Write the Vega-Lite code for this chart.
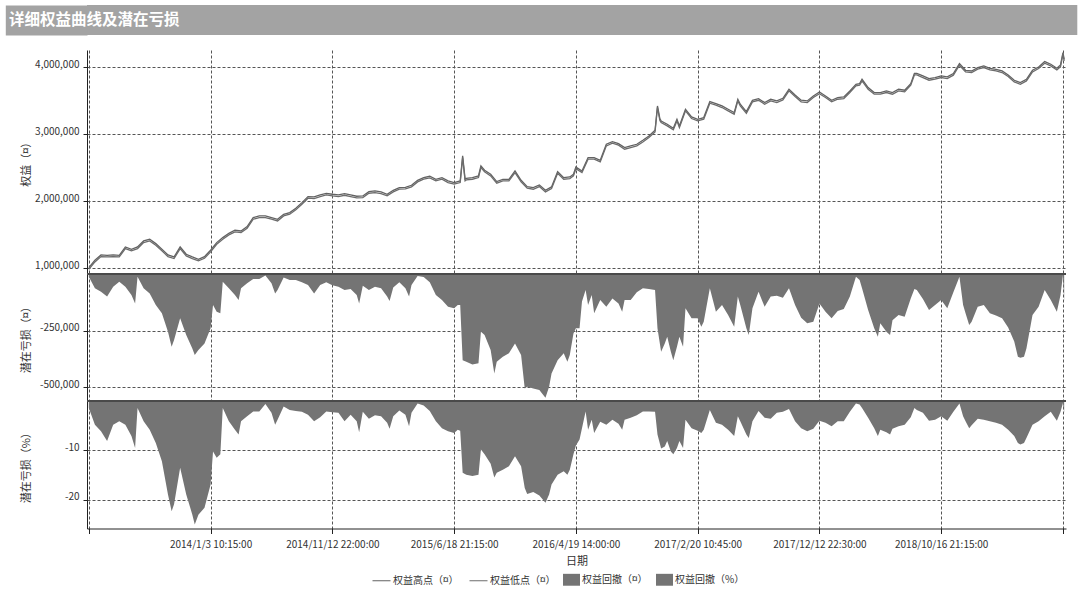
{
  "$schema": "https://vega.github.io/schema/vega-lite/v6.json",
  "background": "white",
  "padding": {"left": -10, "top": 5, "right": 5, "bottom": 5},
  "config": {
    "font": "Noto Sans CJK SC",
    "view": {"stroke": null},
    "axis": {
      "labelFont": "Noto Sans CJK SC", "labelFontSize": 10, "labelColor": "#333333",
      "titleFont": "Noto Sans CJK SC", "titleFontSize": 11, "titleFontWeight": "normal", "titleColor": "#333333", "titleLineHeight": 12.7,
      "gridColor": "#555555", "gridDash": [3, 2], "gridOpacity": 1, "gridWidth": 1,
      "domainColor": "#222222", "tickColor": "#222222"
    },
    "legend": {"labelFont": "Noto Sans CJK SC", "labelFontSize": 10, "labelColor": "#333333", "labelOffset": 2, "columnPadding": 8}
  },
  "datasets": {
    "eq": [
      {"i":0,"hi":1012000,"lo":988000},{"i":5,"hi":1121000,"lo":1097000},{"i":10,"hi":1201000,"lo":1177000},{"i":15,"hi":1196000,"lo":1172000},
      {"i":20,"hi":1201000,"lo":1177000},{"i":25,"hi":1196000,"lo":1172000},{"i":30,"hi":1320000,"lo":1296000},{"i":35,"hi":1286000,"lo":1262000},
      {"i":40,"hi":1320000,"lo":1296000},{"i":45,"hi":1410000,"lo":1386000},{"i":50,"hi":1435000,"lo":1411000},{"i":55,"hi":1370000,"lo":1346000},
      {"i":60,"hi":1286000,"lo":1262000},{"i":65,"hi":1201000,"lo":1177000},{"i":70,"hi":1171000,"lo":1147000},{"i":75,"hi":1320000,"lo":1296000},
      {"i":80,"hi":1211000,"lo":1187000},{"i":85,"hi":1171000,"lo":1147000},{"i":90,"hi":1136000,"lo":1112000},{"i":95,"hi":1176000,"lo":1152000},
      {"i":100,"hi":1271000,"lo":1247000},{"i":105,"hi":1385000,"lo":1361000},{"i":110,"hi":1460000,"lo":1436000},{"i":115,"hi":1524000,"lo":1500000},
      {"i":120,"hi":1569000,"lo":1545000},{"i":125,"hi":1559000,"lo":1535000},{"i":130,"hi":1624000,"lo":1600000},{"i":135,"hi":1758000,"lo":1734000},
      {"i":140,"hi":1783000,"lo":1759000},{"i":145,"hi":1783000,"lo":1759000},{"i":150,"hi":1758000,"lo":1734000},{"i":155,"hi":1733000,"lo":1709000},
      {"i":160,"hi":1808000,"lo":1784000},{"i":165,"hi":1833000,"lo":1809000},{"i":170,"hi":1898000,"lo":1874000},{"i":175,"hi":1982000,"lo":1958000},
      {"i":180,"hi":2072000,"lo":2048000},{"i":185,"hi":2067000,"lo":2043000},{"i":190,"hi":2097000,"lo":2073000},{"i":195,"hi":2121000,"lo":2097000},
      {"i":200,"hi":2107000,"lo":2083000},{"i":205,"hi":2097000,"lo":2073000},{"i":210,"hi":2116000,"lo":2092000},{"i":215,"hi":2097000,"lo":2073000},
      {"i":220,"hi":2077000,"lo":2053000},{"i":225,"hi":2082000,"lo":2058000},{"i":230,"hi":2146000,"lo":2122000},{"i":235,"hi":2156000,"lo":2132000},
      {"i":240,"hi":2141000,"lo":2117000},{"i":245,"hi":2107000,"lo":2083000},{"i":250,"hi":2166000,"lo":2142000},{"i":255,"hi":2206000,"lo":2182000},
      {"i":260,"hi":2211000,"lo":2187000},{"i":265,"hi":2241000,"lo":2217000},{"i":270,"hi":2315000,"lo":2291000},{"i":275,"hi":2355000,"lo":2331000},
      {"i":280,"hi":2375000,"lo":2351000},{"i":285,"hi":2330000,"lo":2306000},{"i":290,"hi":2355000,"lo":2331000},{"i":295,"hi":2306000,"lo":2282000},
      {"i":300,"hi":2281000,"lo":2257000},{"i":305,"hi":2306000,"lo":2282000},{"i":307,"hi":2679000,"lo":2655000},{"i":309,"hi":2332000,"lo":2308000},
      {"i":310,"hi":2345000,"lo":2321000},{"i":315,"hi":2355000,"lo":2331000},{"i":320,"hi":2380000,"lo":2356000},{"i":322,"hi":2529000,"lo":2505000},
      {"i":325,"hi":2465000,"lo":2441000},{"i":330,"hi":2405000,"lo":2381000},{"i":335,"hi":2296000,"lo":2272000},{"i":340,"hi":2330000,"lo":2306000},
      {"i":345,"hi":2330000,"lo":2306000},{"i":350,"hi":2455000,"lo":2431000},{"i":355,"hi":2315000,"lo":2291000},{"i":360,"hi":2221000,"lo":2197000},
      {"i":365,"hi":2206000,"lo":2182000},{"i":370,"hi":2246000,"lo":2222000},{"i":375,"hi":2166000,"lo":2142000},{"i":380,"hi":2216000,"lo":2192000},
      {"i":385,"hi":2445000,"lo":2421000},{"i":390,"hi":2355000,"lo":2331000},{"i":395,"hi":2365000,"lo":2341000},{"i":398,"hi":2405000,"lo":2381000},
      {"i":400,"hi":2512000,"lo":2488000},{"i":405,"hi":2455000,"lo":2431000},{"i":410,"hi":2654000,"lo":2630000},{"i":415,"hi":2654000,"lo":2630000},
      {"i":420,"hi":2614000,"lo":2590000},{"i":425,"hi":2853000,"lo":2829000},{"i":430,"hi":2893000,"lo":2869000},{"i":435,"hi":2863000,"lo":2839000},
      {"i":440,"hi":2803000,"lo":2779000},{"i":445,"hi":2828000,"lo":2804000},{"i":450,"hi":2853000,"lo":2829000},{"i":455,"hi":2912000,"lo":2888000},
      {"i":460,"hi":2977000,"lo":2953000},{"i":465,"hi":3062000,"lo":3038000},{"i":467,"hi":3425000,"lo":3401000},{"i":469,"hi":3232000,"lo":3208000},
      {"i":470,"hi":3201000,"lo":3177000},{"i":475,"hi":3151000,"lo":3127000},{"i":480,"hi":3092000,"lo":3068000},{"i":483,"hi":3226000,"lo":3202000},
      {"i":485,"hi":3126000,"lo":3102000},{"i":490,"hi":3375000,"lo":3351000},{"i":495,"hi":3261000,"lo":3237000},{"i":500,"hi":3226000,"lo":3202000},
      {"i":505,"hi":3251000,"lo":3227000},{"i":510,"hi":3490000,"lo":3466000},{"i":515,"hi":3460000,"lo":3436000},{"i":520,"hi":3425000,"lo":3401000},
      {"i":525,"hi":3375000,"lo":3351000},{"i":530,"hi":3325000,"lo":3301000},{"i":533,"hi":3524000,"lo":3500000},{"i":535,"hi":3450000,"lo":3426000},
      {"i":540,"hi":3340000,"lo":3316000},{"i":545,"hi":3510000,"lo":3486000},{"i":550,"hi":3534000,"lo":3510000},{"i":555,"hi":3475000,"lo":3451000},
      {"i":560,"hi":3524000,"lo":3500000},{"i":565,"hi":3500000,"lo":3476000},{"i":570,"hi":3539000,"lo":3515000},{"i":575,"hi":3674000,"lo":3650000},
      {"i":580,"hi":3589000,"lo":3565000},{"i":585,"hi":3510000,"lo":3486000},{"i":590,"hi":3500000,"lo":3476000},{"i":595,"hi":3574000,"lo":3550000},
      {"i":600,"hi":3632000,"lo":3608000},{"i":605,"hi":3574000,"lo":3550000},{"i":610,"hi":3510000,"lo":3486000},{"i":615,"hi":3549000,"lo":3525000},
      {"i":620,"hi":3559000,"lo":3535000},{"i":625,"hi":3649000,"lo":3625000},{"i":630,"hi":3748000,"lo":3724000},{"i":633,"hi":3758000,"lo":3734000},
      {"i":635,"hi":3823000,"lo":3799000},{"i":640,"hi":3699000,"lo":3675000},{"i":645,"hi":3624000,"lo":3600000},{"i":650,"hi":3624000,"lo":3600000},
      {"i":655,"hi":3649000,"lo":3625000},{"i":660,"hi":3624000,"lo":3600000},{"i":665,"hi":3674000,"lo":3650000},{"i":670,"hi":3659000,"lo":3635000},
      {"i":675,"hi":3758000,"lo":3734000},{"i":678,"hi":3912000,"lo":3888000},{"i":680,"hi":3912000,"lo":3888000},{"i":685,"hi":3873000,"lo":3849000},
      {"i":690,"hi":3833000,"lo":3809000},{"i":695,"hi":3848000,"lo":3824000},{"i":700,"hi":3873000,"lo":3849000},{"i":705,"hi":3858000,"lo":3834000},
      {"i":710,"hi":3908000,"lo":3884000},{"i":715,"hi":4057000,"lo":4033000},{"i":720,"hi":3957000,"lo":3933000},{"i":725,"hi":3947000,"lo":3923000},
      {"i":730,"hi":3997000,"lo":3973000},{"i":735,"hi":4022000,"lo":3998000},{"i":740,"hi":3987000,"lo":3963000},{"i":745,"hi":3972000,"lo":3948000},
      {"i":750,"hi":3947000,"lo":3923000},{"i":755,"hi":3888000,"lo":3864000},{"i":760,"hi":3808000,"lo":3784000},{"i":765,"hi":3773000,"lo":3749000},
      {"i":770,"hi":3823000,"lo":3799000},{"i":775,"hi":3957000,"lo":3933000},{"i":780,"hi":4007000,"lo":3983000},{"i":785,"hi":4087000,"lo":4063000},
      {"i":790,"hi":4047000,"lo":4023000},{"i":795,"hi":3987000,"lo":3963000},{"i":798,"hi":4037000,"lo":4013000},{"i":800,"hi":4221000,"lo":4197000},
      {"i":801,"hi":4122000,"lo":4098000}
    ],
    "dd": [
      {"i":0,"amt":-12000,"pct":-1.4},{"i":5,"amt":-63000,"pct":-4.8},{"i":10,"amt":-78000,"pct":-6.1},{"i":15,"amt":-100000,"pct":-8.1},
      {"i":20,"amt":-56000,"pct":-4.8},{"i":25,"amt":-34000,"pct":-4.1},{"i":30,"amt":-56000,"pct":-4.8},{"i":35,"amt":-93000,"pct":-7.1},
      {"i":38,"amt":-130000,"pct":-9.5},{"i":40,"amt":-12000,"pct":-1.4},{"i":45,"amt":-63000,"pct":-4.1},{"i":50,"amt":-86000,"pct":-5.8},
      {"i":55,"amt":-137000,"pct":-8.5},{"i":60,"amt":-174000,"pct":-12.2},{"i":65,"amt":-255000,"pct":-18.9},{"i":68,"amt":-322000,"pct":-22.3},
      {"i":70,"amt":-292000,"pct":-20.9},{"i":75,"amt":-196000,"pct":-13.5},{"i":80,"amt":-270000,"pct":-18.9},{"i":85,"amt":-329000,"pct":-23.0},
      {"i":87,"amt":-358000,"pct":-25.0},{"i":90,"amt":-336000,"pct":-23.0},{"i":95,"amt":-307000,"pct":-21.6},{"i":100,"amt":-240000,"pct":-16.9},
      {"i":102,"amt":-137000,"pct":-10.2},{"i":105,"amt":-167000,"pct":-11.5},{"i":108,"amt":-174000,"pct":-10.8},{"i":110,"amt":-34000,"pct":-1.4},
      {"i":115,"amt":-63000,"pct":-4.1},{"i":120,"amt":-93000,"pct":-5.8},{"i":123,"amt":-115000,"pct":-6.8},{"i":125,"amt":-63000,"pct":-4.1},
      {"i":130,"amt":-41000,"pct":-3.1},{"i":135,"amt":-22000,"pct":-2.1},{"i":140,"amt":-22000,"pct":-2.1},{"i":145,"amt":-7000,"pct":-0.6},
      {"i":150,"amt":-41000,"pct":-2.4},{"i":153,"amt":-86000,"pct":-4.8},{"i":155,"amt":-71000,"pct":-3.8},{"i":160,"amt":-16000,"pct":-1.1},
      {"i":165,"amt":-27000,"pct":-1.8},{"i":170,"amt":-27000,"pct":-2.0},{"i":175,"amt":-37000,"pct":-2.2},{"i":180,"amt":-49000,"pct":-2.8},
      {"i":185,"amt":-86000,"pct":-4.1},{"i":190,"amt":-49000,"pct":-3.3},{"i":195,"amt":-37000,"pct":-2.1},{"i":200,"amt":-50000,"pct":-2.3},
      {"i":205,"amt":-56000,"pct":-2.4},{"i":210,"amt":-71000,"pct":-4.1},{"i":215,"amt":-66000,"pct":-2.8},{"i":220,"amt":-93000,"pct":-4.1},
      {"i":222,"amt":-130000,"pct":-6.3},{"i":225,"amt":-52000,"pct":-2.2},{"i":230,"amt":-71000,"pct":-3.6},{"i":235,"amt":-56000,"pct":-2.9},
      {"i":240,"amt":-63000,"pct":-3.1},{"i":245,"amt":-100000,"pct":-4.4},{"i":247,"amt":-119000,"pct":-5.6},{"i":250,"amt":-60000,"pct":-3.1},
      {"i":255,"amt":-37000,"pct":-1.9},{"i":260,"amt":-63000,"pct":-2.8},{"i":263,"amt":-100000,"pct":-5.1},{"i":265,"amt":-49000,"pct":-2.4},
      {"i":270,"amt":-9000,"pct":-0.5},{"i":275,"amt":-13000,"pct":-0.9},{"i":280,"amt":-37000,"pct":-2.0},{"i":285,"amt":-93000,"pct":-4.1},
      {"i":290,"amt":-115000,"pct":-5.5},{"i":295,"amt":-145000,"pct":-6.1},{"i":300,"amt":-152000,"pct":-6.5},{"i":303,"amt":-137000,"pct":-5.8},
      {"i":305,"amt":-137000,"pct":-6.0},{"i":307,"amt":-381000,"pct":-14.5},{"i":310,"amt":-388000,"pct":-14.9},{"i":315,"amt":-400000,"pct":-15.2},
      {"i":320,"amt":-395000,"pct":-14.9},{"i":322,"amt":-255000,"pct":-9.8},{"i":325,"amt":-270000,"pct":-10.8},{"i":330,"amt":-336000,"pct":-12.7},
      {"i":333,"amt":-440000,"pct":-15.5},{"i":335,"amt":-388000,"pct":-14.5},{"i":340,"amt":-366000,"pct":-13.9},{"i":345,"amt":-351000,"pct":-13.2},
      {"i":350,"amt":-307000,"pct":-11.2},{"i":355,"amt":-358000,"pct":-13.2},{"i":358,"amt":-506000,"pct":-17.6},{"i":360,"amt":-499000,"pct":-18.8},
      {"i":365,"amt":-506000,"pct":-18.4},{"i":370,"amt":-513000,"pct":-19.1},{"i":375,"amt":-547000,"pct":-20.6},{"i":378,"amt":-499000,"pct":-18.9},
      {"i":380,"amt":-440000,"pct":-16.9},{"i":385,"amt":-381000,"pct":-14.9},{"i":390,"amt":-351000,"pct":-14.2},{"i":393,"amt":-388000,"pct":-14.9},
      {"i":395,"amt":-358000,"pct":-13.9},{"i":398,"amt":-263000,"pct":-10.8},{"i":400,"amt":-240000,"pct":-9.0},{"i":403,"amt":-240000,"pct":-7.8},
      {"i":405,"amt":-122000,"pct":-5.5},{"i":408,"amt":-71000,"pct":-2.1},{"i":410,"amt":-137000,"pct":-5.8},{"i":413,"amt":-93000,"pct":-3.8},
      {"i":415,"amt":-174000,"pct":-6.5},{"i":420,"amt":-115000,"pct":-4.2},{"i":425,"amt":-145000,"pct":-4.8},{"i":430,"amt":-108000,"pct":-3.8},
      {"i":435,"amt":-130000,"pct":-4.6},{"i":438,"amt":-167000,"pct":-5.8},{"i":440,"amt":-115000,"pct":-3.8},{"i":445,"amt":-115000,"pct":-3.4},
      {"i":450,"amt":-81000,"pct":-2.9},{"i":455,"amt":-63000,"pct":-2.1},{"i":460,"amt":-66000,"pct":-2.1},{"i":465,"amt":-71000,"pct":-2.2},
      {"i":467,"amt":-240000,"pct":-6.8},{"i":470,"amt":-344000,"pct":-9.6},{"i":473,"amt":-307000,"pct":-9.2},{"i":475,"amt":-277000,"pct":-8.1},
      {"i":478,"amt":-344000,"pct":-10.2},{"i":480,"amt":-381000,"pct":-10.8},{"i":483,"amt":-322000,"pct":-9.5},{"i":485,"amt":-277000,"pct":-8.1},
      {"i":488,"amt":-322000,"pct":-9.5},{"i":490,"amt":-152000,"pct":-3.8},{"i":495,"amt":-196000,"pct":-5.5},{"i":500,"amt":-196000,"pct":-6.0},
      {"i":503,"amt":-233000,"pct":-6.5},{"i":505,"amt":-211000,"pct":-5.8},{"i":510,"amt":-63000,"pct":-1.8},{"i":515,"amt":-167000,"pct":-4.4},
      {"i":520,"amt":-137000,"pct":-4.8},{"i":525,"amt":-181000,"pct":-5.8},{"i":530,"amt":-233000,"pct":-7.1},{"i":533,"amt":-100000,"pct":-3.1},
      {"i":535,"amt":-137000,"pct":-4.1},{"i":540,"amt":-240000,"pct":-6.8},{"i":542,"amt":-270000,"pct":-7.5},{"i":545,"amt":-152000,"pct":-4.1},
      {"i":550,"amt":-78000,"pct":-2.0},{"i":555,"amt":-145000,"pct":-3.4},{"i":560,"amt":-100000,"pct":-3.6},{"i":565,"amt":-96000,"pct":-2.4},
      {"i":570,"amt":-105000,"pct":-2.2},{"i":575,"amt":-63000,"pct":-1.6},{"i":580,"amt":-137000,"pct":-4.1},{"i":585,"amt":-193000,"pct":-5.5},
      {"i":590,"amt":-218000,"pct":-6.1},{"i":595,"amt":-211000,"pct":-5.6},{"i":600,"amt":-130000,"pct":-4.0},{"i":605,"amt":-167000,"pct":-4.4},
      {"i":610,"amt":-196000,"pct":-5.1},{"i":615,"amt":-164000,"pct":-4.1},{"i":620,"amt":-155000,"pct":-4.1},{"i":625,"amt":-100000,"pct":-2.2},
      {"i":630,"amt":-12000,"pct":-0.5},{"i":633,"amt":-27000,"pct":-0.7},{"i":635,"amt":-63000,"pct":-1.4},{"i":640,"amt":-159000,"pct":-3.4},
      {"i":645,"amt":-240000,"pct":-5.5},{"i":648,"amt":-277000,"pct":-7.1},{"i":650,"amt":-218000,"pct":-5.8},{"i":655,"amt":-255000,"pct":-6.3},
      {"i":658,"amt":-270000,"pct":-6.8},{"i":660,"amt":-204000,"pct":-5.6},{"i":665,"amt":-181000,"pct":-5.1},{"i":670,"amt":-189000,"pct":-4.8},
      {"i":675,"amt":-108000,"pct":-3.3},{"i":678,"amt":-66000,"pct":-1.4},{"i":680,"amt":-71000,"pct":-1.8},{"i":685,"amt":-111000,"pct":-2.4},
      {"i":690,"amt":-159000,"pct":-4.0},{"i":695,"amt":-137000,"pct":-3.8},{"i":700,"amt":-115000,"pct":-3.1},{"i":705,"amt":-152000,"pct":-4.0},
      {"i":710,"amt":-81000,"pct":-2.2},{"i":715,"amt":-12000,"pct":-0.5},{"i":718,"amt":-137000,"pct":-3.1},{"i":720,"amt":-174000,"pct":-4.1},
      {"i":723,"amt":-226000,"pct":-5.5},{"i":725,"amt":-211000,"pct":-4.9},{"i":730,"amt":-145000,"pct":-3.6},{"i":735,"amt":-137000,"pct":-3.8},
      {"i":740,"amt":-174000,"pct":-4.1},{"i":745,"amt":-184000,"pct":-4.4},{"i":750,"amt":-196000,"pct":-4.8},{"i":755,"amt":-237000,"pct":-5.8},
      {"i":760,"amt":-299000,"pct":-7.1},{"i":763,"amt":-366000,"pct":-8.5},{"i":765,"amt":-370000,"pct":-8.8},{"i":768,"amt":-366000,"pct":-8.5},
      {"i":770,"amt":-329000,"pct":-7.5},{"i":775,"amt":-181000,"pct":-4.8},{"i":780,"amt":-145000,"pct":-4.1},{"i":785,"amt":-71000,"pct":-3.1},
      {"i":790,"amt":-115000,"pct":-2.2},{"i":795,"amt":-167000,"pct":-4.0},{"i":798,"amt":-93000,"pct":-2.2},{"i":800,"amt":-4000,"pct":-0.4},
      {"i":801,"amt":-122000,"pct":-2.4}
    ],
    "hdr": [{"t": "详细权益曲线及潜在亏损"}]
  },
  "spacing": 15,
  "vconcat": [
    {
      "width": 990.3,
      "height": 30,
      "data": {"name": "hdr"},
      "mark": {"type": "rect", "color": "#a3a3a3"},
      "encoding": {
        "y": {"field": "t", "type": "nominal", "scale": {"paddingInner": 0, "paddingOuter": 0},
              "axis": {"title": null, "domain": false, "grid": false, "ticks": true, "tickSize": 81.7, "tickWidth": 30, "tickColor": "#a3a3a3", "tickCap": "butt", "bandPosition": 0.5,
                       "labelAlign": "left", "labelBaseline": "middle", "labelPadding": -3.3, "labelFontSize": 15.5, "labelFontWeight": "bold", "labelColor": "#ffffff", "labelFont": "Noto Sans CJK SC", "labelLimit": 400}}
      }
    },
    {
      "spacing": 0,
      "vconcat": [
        {
          "width": 979,
          "height": 222.5,
          "data": {"name": "eq"},
          "layer": [
            {
              "mark": {"type": "line", "strokeWidth": 1.3},
              "encoding": {
                "x": {"field": "i", "type": "quantitative", "scale": {"domain": [-1.5, 802.5], "nice": false, "zero": false},
                      "axis": {"values": [0,100,200,300,400,500,600,700,800], "labels": false, "ticks": false, "domain": false, "title": null, "grid": true}},
                "y": {"field": "hi", "type": "quantitative", "scale": {"domain": [939000, 4260000], "nice": false, "zero": false},
                      "axis": {"values": [1000000,2000000,3000000,4000000], "format": ",d", "title": ["", "权益（¤）"], "tickSize": 4, "labelPadding": 4, "labelBaseline": "alphabetic", "minExtent": 52, "maxExtent": 52, "titlePadding": 4, "grid": true}},
                "stroke": {"datum": "权益高点（¤）", "type": "nominal",
                          "scale": {"domain": ["权益高点（¤）","权益低点（¤）"], "range": ["#626262","#6c6c6c"]},
                          "legend": {"title": null, "orient": "none", "legendX": 285, "legendY": 566, "direction": "horizontal",
                                     "symbolType": "stroke", "symbolSize": 324, "symbolStrokeWidth": 1}}
              }
            },
            {
              "mark": {"type": "line", "strokeWidth": 1.3},
              "encoding": {
                "x": {"field": "i", "type": "quantitative"},
                "y": {"field": "lo", "type": "quantitative"},
                "stroke": {"datum": "权益低点（¤）", "type": "nominal"}
              }
            }
          ]
        },
        {
          "width": 979,
          "height": 125.5,
          "data": {"name": "dd"},
          "layer": [
            {
              "mark": {"type": "area", "opacity": 1},
              "encoding": {
                "x": {"field": "i", "type": "quantitative", "scale": {"domain": [-1.5, 802.5], "nice": false, "zero": false},
                      "axis": {"values": [0,100,200,300,400,500,600,700,800], "labels": false, "ticks": false, "domain": false, "title": null, "grid": true}},
                "y": {"field": "amt", "type": "quantitative", "scale": {"domain": [-555000, 0], "nice": false},
                      "axis": {"values": [-250000, -500000], "format": ",d", "labelExpr": "replace(datum.label, '−', '-')", "title": ["", "潜在亏损（¤）"], "tickSize": 4, "labelPadding": 4, "labelBaseline": "alphabetic", "minExtent": 52, "maxExtent": 52, "titlePadding": 4, "grid": true}},
                "fill": {"datum": "权益回撤（¤）", "type": "nominal",
                         "scale": {"domain": ["权益回撤（¤）","权益回撤（%）"], "range": ["#747474","#747474"]},
                         "legend": {"title": null, "orient": "none", "legendX": 476, "legendY": 566, "direction": "horizontal",
                                    "symbolType": "M-1,-0.7H1V0.7H-1Z", "symbolSize": 289, "symbolStrokeWidth": 0}}
              }
            },
            {
              "mark": {"type": "rule", "color": "#4a4a4a", "strokeWidth": 2},
              "encoding": {"y": {"datum": 0}}
            }
          ]
        },
        {
          "width": 979,
          "height": 127.5,
          "data": {"name": "dd"},
          "layer": [
            {
              "mark": {"type": "area", "opacity": 1},
              "encoding": {
                "x": {"field": "i", "type": "quantitative", "scale": {"domain": [-1.5, 802.5], "nice": false, "zero": false},
                      "axis": {"values": [0,100,200,300,400,500,600,700,800], "grid": true, "ticks": true, "tickSize": 5, "domain": true, "labelPadding": 6, "labelFlush": false, "titlePadding": 6, "title": "日期",
                               "labelExpr": "datum.value == 100 ? '2014/1/3 10:15:00' : datum.value == 200 ? '2014/11/12 22:00:00' : datum.value == 300 ? '2015/6/18 21:15:00' : datum.value == 400 ? '2016/4/19 14:00:00' : datum.value == 500 ? '2017/2/20 10:45:00' : datum.value == 600 ? '2017/12/12 22:30:00' : datum.value == 700 ? '2018/10/16 21:15:00' : ''"}},
                "y": {"field": "pct", "type": "quantitative", "scale": {"domain": [-25.8, 0], "nice": false},
                      "axis": {"values": [-10, -20], "format": "d", "labelExpr": "replace(datum.label, '−', '-')", "title": ["", "潜在亏损（%）"], "tickSize": 4, "labelPadding": 4, "labelBaseline": "alphabetic", "minExtent": 52, "maxExtent": 52, "titlePadding": 4, "grid": true}},
                "fill": {"datum": "权益回撤（%）", "type": "nominal"}
              }
            },
            {
              "mark": {"type": "rule", "color": "#4a4a4a", "strokeWidth": 2},
              "encoding": {"y": {"datum": 0}}
            }
          ]
        }
      ]
    }
  ]
}
